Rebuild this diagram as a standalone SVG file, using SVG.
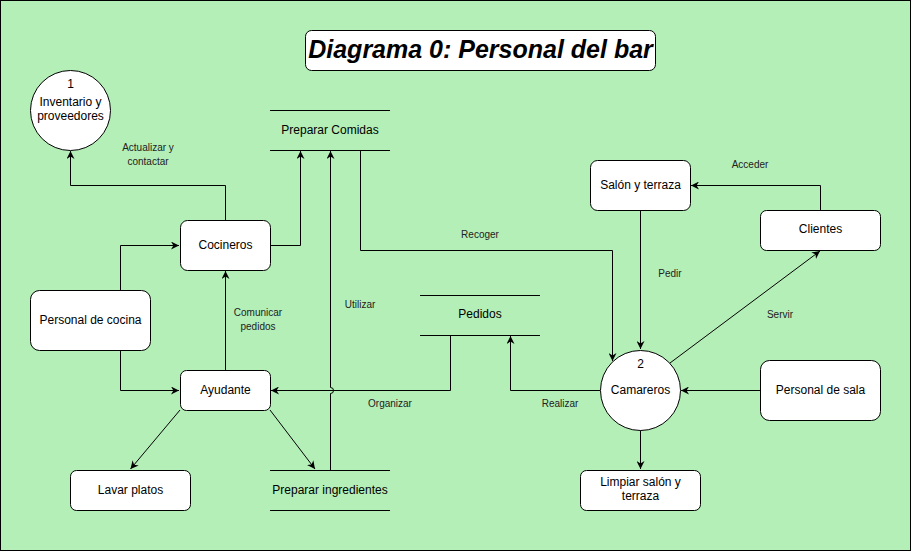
<svg xmlns="http://www.w3.org/2000/svg" width="911" height="551" viewBox="0 0 911 551">
<defs>
<marker id="arr" viewBox="0 0 10 10" refX="10" refY="5" markerWidth="8" markerHeight="8" markerUnits="userSpaceOnUse" orient="auto">
<path d="M0,0 L10,5 L0,10 L3,5 Z" fill="#000"/>
</marker>
<style>
.node{fill:#fff;stroke:#000;stroke-width:1}
.t{font-family:"Liberation Sans",Arial,sans-serif;font-size:12px;fill:#000;text-anchor:middle}
.l{font-family:"Liberation Sans",Arial,sans-serif;font-size:10px;fill:#222;text-anchor:middle}
.c{fill:none;stroke:#000;stroke-width:1}
.a{marker-end:url(#arr)}
</style>
</defs>
<rect x="0.5" y="0.5" width="910" height="550" fill="#b4efb8" stroke="#000" stroke-width="1"/>
<g id="title">
<rect x="305.5" y="30.5" width="350" height="40" rx="6" class="node"/>
<text x="480.5" y="58" font-family="'Liberation Sans',Arial,sans-serif" font-size="25" font-weight="bold" font-style="italic" text-anchor="middle">Diagrama 0: Personal del bar</text>
</g>
<g id="connectors">
<path class="c a" d="M225.5,220 V185.5 H70.5 V151"/>
<path class="c a" d="M270,245.5 H300.5 V151"/>
<path class="c a" d="M330.5,470 V393.5 A3,3 0 0 0 330.5,387.5 V151"/>
<path class="c a" d="M360.5,150 V250.5 H612.5 V361"/>
<path class="c a" d="M120.5,290 V245.5 H179"/>
<path class="c a" d="M120.5,350 V390.5 H179"/>
<path class="c a" d="M225.5,370 V271"/>
<path class="c a" d="M450.5,335 V390.5 H271"/>
<path class="c a" d="M180,410 L130.5,469"/>
<path class="c a" d="M270,410 L315,469"/>
<path class="c a" d="M600,390.5 H510.5 V336"/>
<path class="c a" d="M640.5,210 V349"/>
<path class="c a" d="M820.5,210 V185.5 H691"/>
<path class="c a" d="M670,363 L820,251"/>
<path class="c a" d="M760,390.5 H681"/>
<path class="c a" d="M640.5,430 V469"/>
<text class="l" x="148" y="151">Actualizar y</text>
<text class="l" x="148" y="165">contactar</text>
<text class="l" x="258" y="316">Comunicar</text>
<text class="l" x="258" y="330">pedidos</text>
<text class="l" x="360" y="308">Utilizar</text>
<text class="l" x="480" y="238">Recoger</text>
<text class="l" x="390" y="407">Organizar</text>
<text class="l" x="560" y="407">Realizar</text>
<text class="l" x="670" y="277">Pedir</text>
<text class="l" x="750" y="168">Acceder</text>
<text class="l" x="780" y="318">Servir</text>
</g>
<g id="inventario">
<circle cx="70.5" cy="110.5" r="40" class="node"/>
<text class="t" x="70.5" y="88">1</text>
<text class="t" x="70.5" y="106">Inventario y</text>
<text class="t" x="70.5" y="120">proveedores</text>
</g>
<g id="preparar-comidas">
<line x1="270" y1="110.5" x2="390" y2="110.5" class="c"/>
<line x1="270" y1="150.5" x2="390" y2="150.5" class="c"/>
<text class="t" x="330" y="134">Preparar Comidas</text>
</g>
<g id="cocineros">
<rect x="180.5" y="220.5" width="90" height="50" rx="7" class="node"/>
<text class="t" x="225.5" y="249">Cocineros</text>
</g>
<g id="personal-cocina">
<rect x="30.5" y="290.5" width="120" height="60" rx="9" class="node"/>
<text class="t" x="90.5" y="324">Personal de cocina</text>
</g>
<g id="ayudante">
<rect x="180.5" y="370.5" width="90" height="40" rx="6" class="node"/>
<text class="t" x="225.5" y="394">Ayudante</text>
</g>
<g id="lavar-platos">
<rect x="70.5" y="470.5" width="120" height="40" rx="6" class="node"/>
<text class="t" x="130.5" y="494">Lavar platos</text>
</g>
<g id="preparar-ingredientes">
<line x1="270" y1="470.5" x2="390" y2="470.5" class="c"/>
<line x1="270" y1="510.5" x2="390" y2="510.5" class="c"/>
<text class="t" x="330" y="494">Preparar ingredientes</text>
</g>
<g id="pedidos">
<line x1="420" y1="295.5" x2="540" y2="295.5" class="c"/>
<line x1="420" y1="335.5" x2="540" y2="335.5" class="c"/>
<text class="t" x="480" y="318">Pedidos</text>
</g>
<g id="salon-terraza">
<rect x="590.5" y="160.5" width="100" height="50" rx="7" class="node"/>
<text class="t" x="640.5" y="189">Salón y terraza</text>
</g>
<g id="clientes">
<rect x="760.5" y="210.5" width="120" height="40" rx="6" class="node"/>
<text class="t" x="820.5" y="233">Clientes</text>
</g>
<g id="camareros">
<circle cx="640.5" cy="390.5" r="40" class="node"/>
<text class="t" x="640.5" y="368">2</text>
<text class="t" x="640.5" y="394">Camareros</text>
</g>
<g id="personal-sala">
<rect x="760.5" y="360.5" width="120" height="60" rx="9" class="node"/>
<text class="t" x="820.5" y="394">Personal de sala</text>
</g>
<g id="limpiar">
<rect x="580.5" y="470.5" width="120" height="40" rx="6" class="node"/>
<text class="t" x="640.5" y="486">Limpiar salón y</text>
<text class="t" x="640.5" y="500">terraza</text>
</g>
</svg>
